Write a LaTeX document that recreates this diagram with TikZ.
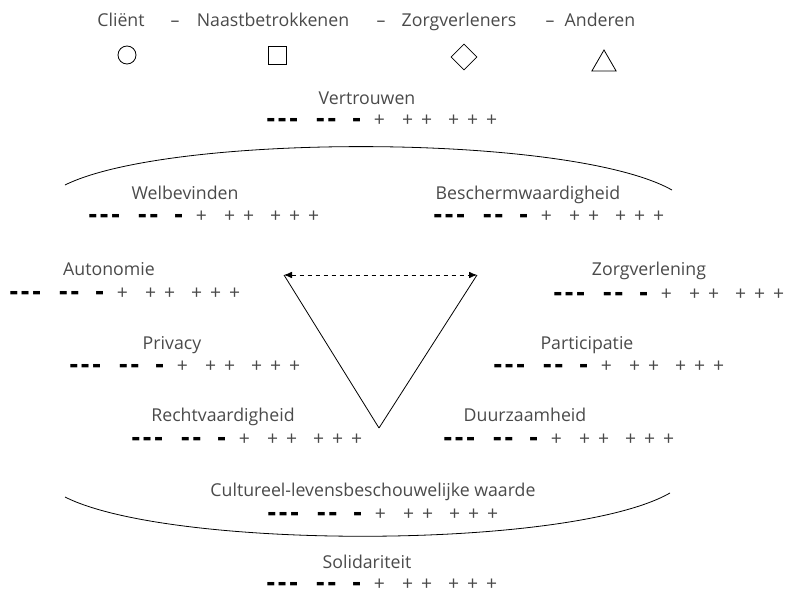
\documentclass[tikz,border=0pt]{standalone}
\usepackage{fontspec}
\setmainfont{Open Sans}
\newfontfamily\barfont{DejaVu Sans}
\usetikzlibrary{positioning,
        shapes.geometric,
        arrows.meta}
\usepackage{xcolor}
\definecolor{txtgray}{HTML}{4A4A4A}
\newcommand{\mn}{\makebox[6pt]{\textcolor{black}{\raisebox{2.8pt}{\barfont\fontsize{6.8}{7}\selectfont ▬}}}}
\newcommand{\pl}{\makebox[5.25pt]{\fontsize{14.5}{16}\selectfont +}}
\newcommand{\ratescale}{\mn\hspace{2.6pt}\mn\hspace{2.6pt}\mn\hspace{14pt}\mn\hspace{2.6pt}\mn\hspace{12.5pt}\mn\hspace{11.5pt}\pl\hspace{16pt}\pl\hspace{9pt}\pl\hspace{15pt}\pl\hspace{9pt}\pl\hspace{9pt}\pl}

\begin{document}
\begin{tikzpicture}[x=0.75pt,y=-0.75pt,
        lbl/.style={inner sep=0pt,text=txtgray,text height=9.6pt,text depth=2.8pt,font=\fontsize{13.3}{16}\selectfont},
        rate/.style={inner sep=0pt,text=txtgray,text height=7pt,text depth=0pt,font=\fontsize{13.3}{16}\selectfont},
        sym/.style={draw,inner sep=0pt,line width=0.6pt}]
        \useasboundingbox (0,0) rectangle (786,596);

        % legend
        \node [lbl] (client) at (121,22) {Cliënt};
        \node [lbl] (sep1) at (175,22) {–};
        \node [lbl] (naast) at (273,22) {Naastbetrokkenen};
        \node [lbl] (sep2) at (381,22) {–};
        \node [lbl] (zorg) at (459,22) {Zorgverleners};
        \node [lbl] (sep3) at (550,22) {–};
        \node [lbl] (ander) at (600,22) {Anderen};

        \node [sym,circle,minimum size=13.5pt] (circ) at (127,55) {};
        \node [sym,rectangle,minimum size=13.5pt] (sq) at (277,55) {};
        \node [sym,diamond,minimum size=19.5pt] (dia) at (464,57) {};
        \node [sym,regular polygon,regular polygon sides=3,minimum size=21pt] (tri) at (604,64) {};

        % values
        \node [lbl] (vertr) at (367,100) {Vertrouwen};
        \node [rate] (vertr-r) at (381,122) {\ratescale};
        \node [lbl] (welb) at (185,195) {Welbevinden};
        \node [rate] (welb-r) at (203,218) {\ratescale};
        \node [lbl] (besch) at (528,195) {Beschermwaardigheid};
        \node [rate] (besch-r) at (548,218) {\ratescale};
        \node [lbl] (auton) at (109,271) {Autonomie};
        \node [rate] (auton-r) at (124,295) {\ratescale};
        \node [lbl] (zorgv) at (649,271) {Zorgverlening};
        \node [rate] (zorgv-r) at (668,296) {\ratescale};
        \node [lbl] (priv) at (172,345) {Privacy};
        \node [rate] (priv-r) at (184,368) {\ratescale};
        \node [lbl] (partic) at (587,345) {Participatie};
        \node [rate] (partic-r) at (608,368) {\ratescale};
        \node [lbl] (recht) at (223,417) {Rechtvaardigheid};
        \node [rate] (recht-r) at (246,441) {\ratescale};
        \node [lbl] (duurz) at (525,417) {Duurzaamheid};
        \node [rate] (duurz-r) at (558,441) {\ratescale};
        \node [lbl] (cult) at (373,492) {Cultureel-levensbeschouwelijke waarde};
        \node [rate] (cult-r) at (382,516) {\ratescale};
        \node [lbl] (solid) at (367,564) {Solidariteit};
        \node [rate] (solid-r) at (381,586) {\ratescale};

        % triangle
        \coordinate (vl) at (284,275);
        \coordinate (vr) at (477,275);
        \coordinate (vb) at (379,428);
        \draw [line width=0.6pt,dashed,{Latex[length=6pt,width=5pt]}-{Latex[length=6pt,width=5pt]}] (vl) -- (vr);
        \draw [line width=0.6pt] (vb) -- (vl);
        \draw [line width=0.6pt] (vb) -- (vr);

        % arcs
        \draw [line width=0.6pt] (65,185) .. controls (170,133) and (570,133) .. (672,190);
        \draw [line width=0.6pt] (65,497) .. controls (170,550) and (570,550) .. (670,493);
\end{tikzpicture}
\end{document}
